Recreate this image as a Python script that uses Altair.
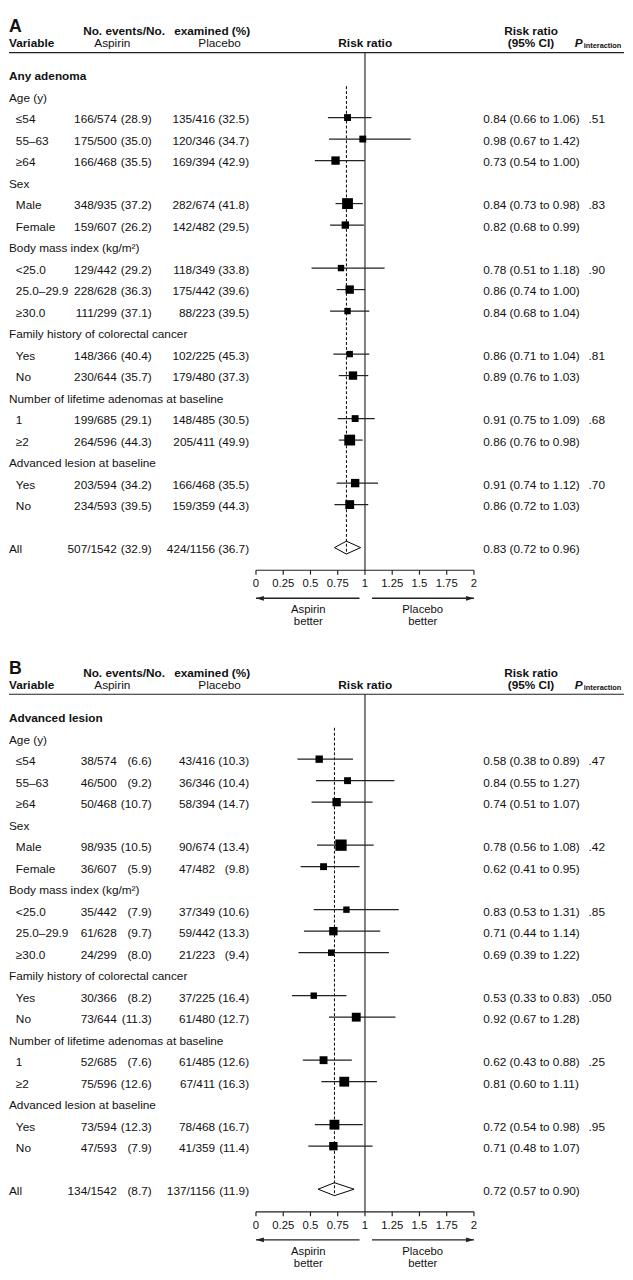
import altair as alt
import pandas as pd

FONT = "Liberation Sans"
W = 625

# ---- shared row structure ----
row_labels = ["", "Age (y)", "≤54", "55–63", "≥64", "Sex", "Male", "Female",
              "Body mass index (kg/m²)", "<25.0", "25.0–29.9", "≥30.0",
              "Family history of colorectal cancer", "Yes", "No",
              "Number of lifetime adenomas at baseline", "1", "≥2",
              "Advanced lesion at baseline", "Yes", "No", "", "All"]
row_kind = ["section", "cat", "sub", "sub", "sub", "cat", "sub", "sub",
            "cat", "sub", "sub", "sub", "cat", "sub", "sub", "cat", "sub", "sub",
            "cat", "sub", "sub", "blank", "all"]

tick_values = [0, 0.25, 0.5, 0.75, 1, 1.25, 1.5, 1.75, 2]
tick_labels = ["0", "0.25", "0.5", "0.75", "1", "1.25", "1.5", "1.75", "2"]

# ---- Panel A: any adenoma ----
a_section = "Any adenoma"
a_asp_frac = ["166/574", "175/500", "166/468", "348/935", "159/607", "129/442", "228/628",
              "111/299", "148/366", "230/644", "199/685", "264/596", "203/594", "234/593", "507/1542"]
a_asp_pct = ["(28.9)", "(35.0)", "(35.5)", "(37.2)", "(26.2)", "(29.2)", "(36.3)",
             "(37.1)", "(40.4)", "(35.7)", "(29.1)", "(44.3)", "(34.2)", "(39.5)", "(32.9)"]
a_pla_frac = ["135/416", "120/346", "169/394", "282/674", "142/482", "118/349", "175/442",
              "88/223", "102/225", "179/480", "148/485", "205/411", "166/468", "159/359", "424/1156"]
a_pla_pct = ["(32.5)", "(34.7)", "(42.9)", "(41.8)", "(29.5)", "(33.8)", "(39.6)",
             "(39.5)", "(45.3)", "(37.3)", "(30.5)", "(49.9)", "(35.5)", "(44.3)", "(36.7)"]
a_rr = [0.84, 0.98, 0.73, 0.84, 0.82, 0.78, 0.86, 0.84, 0.86, 0.89, 0.91, 0.86, 0.91, 0.86, 0.83]
a_lo = [0.66, 0.67, 0.54, 0.73, 0.68, 0.51, 0.74, 0.68, 0.71, 0.76, 0.75, 0.76, 0.74, 0.72, 0.72]
a_hi = [1.06, 1.42, 1.00, 0.98, 0.99, 1.18, 1.00, 1.04, 1.04, 1.03, 1.09, 0.98, 1.12, 1.03, 0.96]
a_p = [".51", "", "", ".83", "", ".90", "", "", ".81", "", ".68", "", ".70", "", ""]
a_weight = [7, 7, 8.5, 11, 7.5, 6.5, 8.5, 6.5, 6.5, 8.5, 7, 11, 8.5, 9, 0]

# ---- Panel B: advanced lesion ----
b_section = "Advanced lesion"
b_asp_frac = ["38/574", "46/500", "50/468", "98/935", "36/607", "35/442", "61/628",
              "24/299", "30/366", "73/644", "52/685", "75/596", "73/594", "47/593", "134/1542"]
b_asp_pct = ["(6.6)", "(9.2)", "(10.7)", "(10.5)", "(5.9)", "(7.9)", "(9.7)",
             "(8.0)", "(8.2)", "(11.3)", "(7.6)", "(12.6)", "(12.3)", "(7.9)", "(8.7)"]
b_pla_frac = ["43/416", "36/346", "58/394", "90/674", "47/482", "37/349", "59/442",
              "21/223", "37/225", "61/480", "61/485", "67/411", "78/468", "41/359", "137/1156"]
b_pla_pct = ["(10.3)", "(10.4)", "(14.7)", "(13.4)", "(9.8)", "(10.6)", "(13.3)",
             "(9.4)", "(16.4)", "(12.7)", "(12.6)", "(16.3)", "(16.7)", "(11.4)", "(11.9)"]
b_rr = [0.58, 0.84, 0.74, 0.78, 0.62, 0.83, 0.71, 0.69, 0.53, 0.92, 0.62, 0.81, 0.72, 0.71, 0.72]
b_lo = [0.38, 0.55, 0.51, 0.56, 0.41, 0.53, 0.44, 0.39, 0.33, 0.67, 0.43, 0.60, 0.54, 0.48, 0.57]
b_hi = [0.89, 1.27, 1.07, 1.08, 0.95, 1.31, 1.14, 1.22, 0.83, 1.28, 0.88, 1.11, 0.98, 1.07, 0.90]
b_p = [".47", "", "", ".42", "", ".85", "", "", ".050", "", ".25", "", ".95", "", ""]
b_weight = [7.5, 7, 8.5, 11.5, 7, 6.5, 8.5, 6.5, 6.5, 9, 8, 10, 10, 8.5, 0]

X_SCALE = alt.Scale(domain=[0, 2], range=[251, 472.5], nice=False, zero=False)
Y_SCALE = alt.Scale(domain=[0, 22], range=[57.3, 538], nice=False, zero=False)
INK = "#111111"
LINE = "#222222"


def txt(text, x, y, align="center", bold=False, size=12, italic=False, baseline="middle"):
    kw = dict(text=text, align=align, baseline=baseline, fontSize=size, font=FONT, color=INK)
    if bold:
        kw["fontWeight"] = "bold"
    if italic:
        kw["fontStyle"] = "italic"
    return alt.Chart(pd.DataFrame({"k": [0]})).mark_text(**kw).encode(
        x=alt.value(x), y=alt.value(y))


def panel(letter, section, asp_frac, asp_pct, pla_frac, pla_pct, rr, lo, hi, pv, wt, height):
    labels = list(row_labels)
    labels[0] = section
    lab_df = pd.DataFrame({"row": list(range(len(labels))), "label": labels, "kind": row_kind})
    idx = [i for i, k in enumerate(row_kind) if k in ("sub", "all")]
    d = pd.DataFrame({"row": idx, "kind": [row_kind[i] for i in idx],
                      "af": asp_frac, "ap": asp_pct, "pf": pla_frac, "pp": pla_pct,
                      "rr": rr, "lo": lo, "hi": hi, "p": pv, "w": wt})
    d["rrtext"] = [f"{r:.2f} ({l:.2f} to {h:.2f})" for r, l, h in zip(rr, lo, hi)]
    subs = d[d.kind == "sub"].copy()
    subs["area"] = subs["w"] ** 2
    allr = d[d.kind == "all"].iloc[0]

    Y = alt.Y("row:Q", scale=Y_SCALE, axis=None)
    Xs = lambda f: alt.X(f, scale=X_SCALE, axis=None)

    layers = []
    base = alt.Chart(lab_df)
    common = dict(baseline="middle", fontSize=12, font=FONT, color=INK, dy=2)
    layers.append(base.transform_filter("datum.kind == 'section'").mark_text(
        align="left", fontWeight="bold", **common).encode(x=alt.value(0), y=Y, text="label:N"))
    layers.append(base.transform_filter("datum.kind == 'cat' || datum.kind == 'all'").mark_text(
        align="left", **common).encode(x=alt.value(0), y=Y, text="label:N"))
    layers.append(base.transform_filter("datum.kind == 'sub'").mark_text(
        align="left", **common).encode(x=alt.value(7), y=Y, text="label:N"))

    db = alt.Chart(d)
    layers.append(db.mark_text(align="right", **common).encode(x=alt.value(109.5), y=Y, text="af:N"))
    layers.append(db.mark_text(align="right", **common).encode(x=alt.value(145), y=Y, text="ap:N"))
    layers.append(db.mark_text(align="right", **common).encode(x=alt.value(209.5), y=Y, text="pf:N"))
    layers.append(db.mark_text(align="right", **common).encode(x=alt.value(244), y=Y, text="pp:N"))
    layers.append(db.mark_text(align="left", **common).encode(x=alt.value(482), y=Y, text="rrtext:N"))
    layers.append(db.mark_text(align="left", **common).encode(x=alt.value(589), y=Y, text="p:N"))

    one = pd.DataFrame({"k": [0]})
    # reference line at 1
    layers.append(alt.Chart(one).mark_rule(color="#555555", strokeWidth=1.5).encode(
        x=alt.X(datum=1, scale=X_SCALE, axis=None), y=alt.value(35), y2=alt.value(561)))
    # dashed overall line
    layers.append(alt.Chart(one).mark_rule(color="black", strokeWidth=1, strokeDash=[3, 2]).encode(
        x=alt.X(datum=float(allr.rr), scale=X_SCALE, axis=None),
        y=alt.Y(datum=0.54, scale=Y_SCALE, axis=None), y2=alt.Y2(datum=22.3)))

    sb = alt.Chart(subs)
    layers.append(sb.mark_rule(color=LINE, strokeWidth=1.2).encode(
        x=Xs("lo:Q"), x2="hi:Q", y=Y))
    layers.append(sb.mark_square(color="black", filled=True, opacity=1).encode(
        x=Xs("rr:Q"), y=Y, size=alt.Size("area:Q", scale=None, legend=None)))

    # diamond for overall estimate
    r0 = float(allr.row)
    dd = pd.DataFrame({"x": [allr.lo, allr.rr, allr.hi, allr.rr, allr.lo],
                       "y": [r0, r0 - 0.3, r0, r0 + 0.3, r0], "o": [0, 1, 2, 3, 4]})
    layers.append(alt.Chart(dd).mark_line(color="black", strokeWidth=1).encode(
        x=Xs("x:Q"), y=alt.Y("y:Q", scale=Y_SCALE, axis=None), order="o:Q"))

    # axis
    layers.append(alt.Chart(one).mark_rule(color=LINE, strokeWidth=1.2).encode(
        x=alt.X(datum=0, scale=X_SCALE, axis=None), x2=alt.X2(datum=2), y=alt.value(561)))
    tdf = pd.DataFrame({"v": tick_values, "lab": tick_labels})
    layers.append(alt.Chart(tdf).mark_rule(color=LINE, strokeWidth=1.2).encode(
        x=Xs("v:Q"), y=alt.value(561), y2=alt.value(565.5)))
    layers.append(alt.Chart(tdf).mark_text(baseline="middle", fontSize=11.5, font=FONT, color=INK).encode(
        x=Xs("v:Q"), y=alt.value(575.5), text="lab:N"))

    # arrows
    layers.append(alt.Chart(one).mark_rule(color=LINE, strokeWidth=1.4).encode(
        x=alt.X(datum=0.95, scale=X_SCALE, axis=None), x2=alt.X2(datum=0), y=alt.value(589.5)))
    layers.append(alt.Chart(one).mark_rule(color=LINE, strokeWidth=1.4).encode(
        x=alt.X(datum=1.065, scale=X_SCALE, axis=None), x2=alt.X2(datum=2), y=alt.value(589.5)))
    layers.append(alt.Chart(one).mark_point(shape="M0,0L2,-0.6L2,0.6Z", filled=True, size=64,
                                            color=LINE, opacity=1).encode(
        x=alt.X(datum=0, scale=X_SCALE, axis=None), y=alt.value(589.5)))
    layers.append(alt.Chart(one).mark_point(shape="M0,0L-2,-0.6L-2,0.6Z", filled=True, size=64,
                                            color=LINE, opacity=1).encode(
        x=alt.X(datum=2, scale=X_SCALE, axis=None), y=alt.value(589.5)))
    for word, xv, yv in [("Aspirin", 0.48, 601.5), ("better", 0.48, 614),
                         ("Placebo", 1.53, 601.5), ("better", 1.53, 614)]:
        layers.append(alt.Chart(one).mark_text(text=word, baseline="middle", fontSize=11.5,
                                               font=FONT, color=INK).encode(
            x=alt.X(datum=xv, scale=X_SCALE, axis=None), y=alt.value(yv)))

    # header
    layers.append(alt.Chart(one).mark_rule(color=LINE, strokeWidth=1.2).encode(
        x=alt.value(0), x2=alt.value(W), y=alt.value(35)))
    layers += [
        txt(letter, 0, 0, align="left", bold=True, size=18, baseline="top"),
        txt("No. events/No.", 117, 13, bold=True),
        txt("examined (%)", 206.5, 13, bold=True),
        txt("Variable", 0, 25.5, align="left", bold=True),
        txt("Aspirin", 105, 25.5),
        txt("Placebo", 214, 25.5),
        txt("Risk ratio", 362, 25.5, bold=True),
        txt("Risk ratio", 530.5, 13, bold=True),
        txt("(95% CI)", 530.5, 25.5, bold=True),
        txt("P", 575, 25.5, align="left", bold=True, italic=True),
        txt("interaction", 584, 28.5, align="left", bold=True, size=7.5),
    ]
    return alt.layer(*layers).properties(width=W, height=height)


pa = panel("A", a_section, a_asp_frac, a_asp_pct, a_pla_frac, a_pla_pct,
           a_rr, a_lo, a_hi, a_p, a_weight, 652)
pb = panel("B", b_section, b_asp_frac, b_asp_pct, b_pla_frac, b_pla_pct,
           b_rr, b_lo, b_hi, b_p, b_weight, 624)

chart = alt.vconcat(pa, pb, spacing=0).configure(
    padding=0, background="white", font=FONT
).configure_view(stroke=None)

chart.save("out.html", embed_options={"renderer": "svg", "actions": False})
